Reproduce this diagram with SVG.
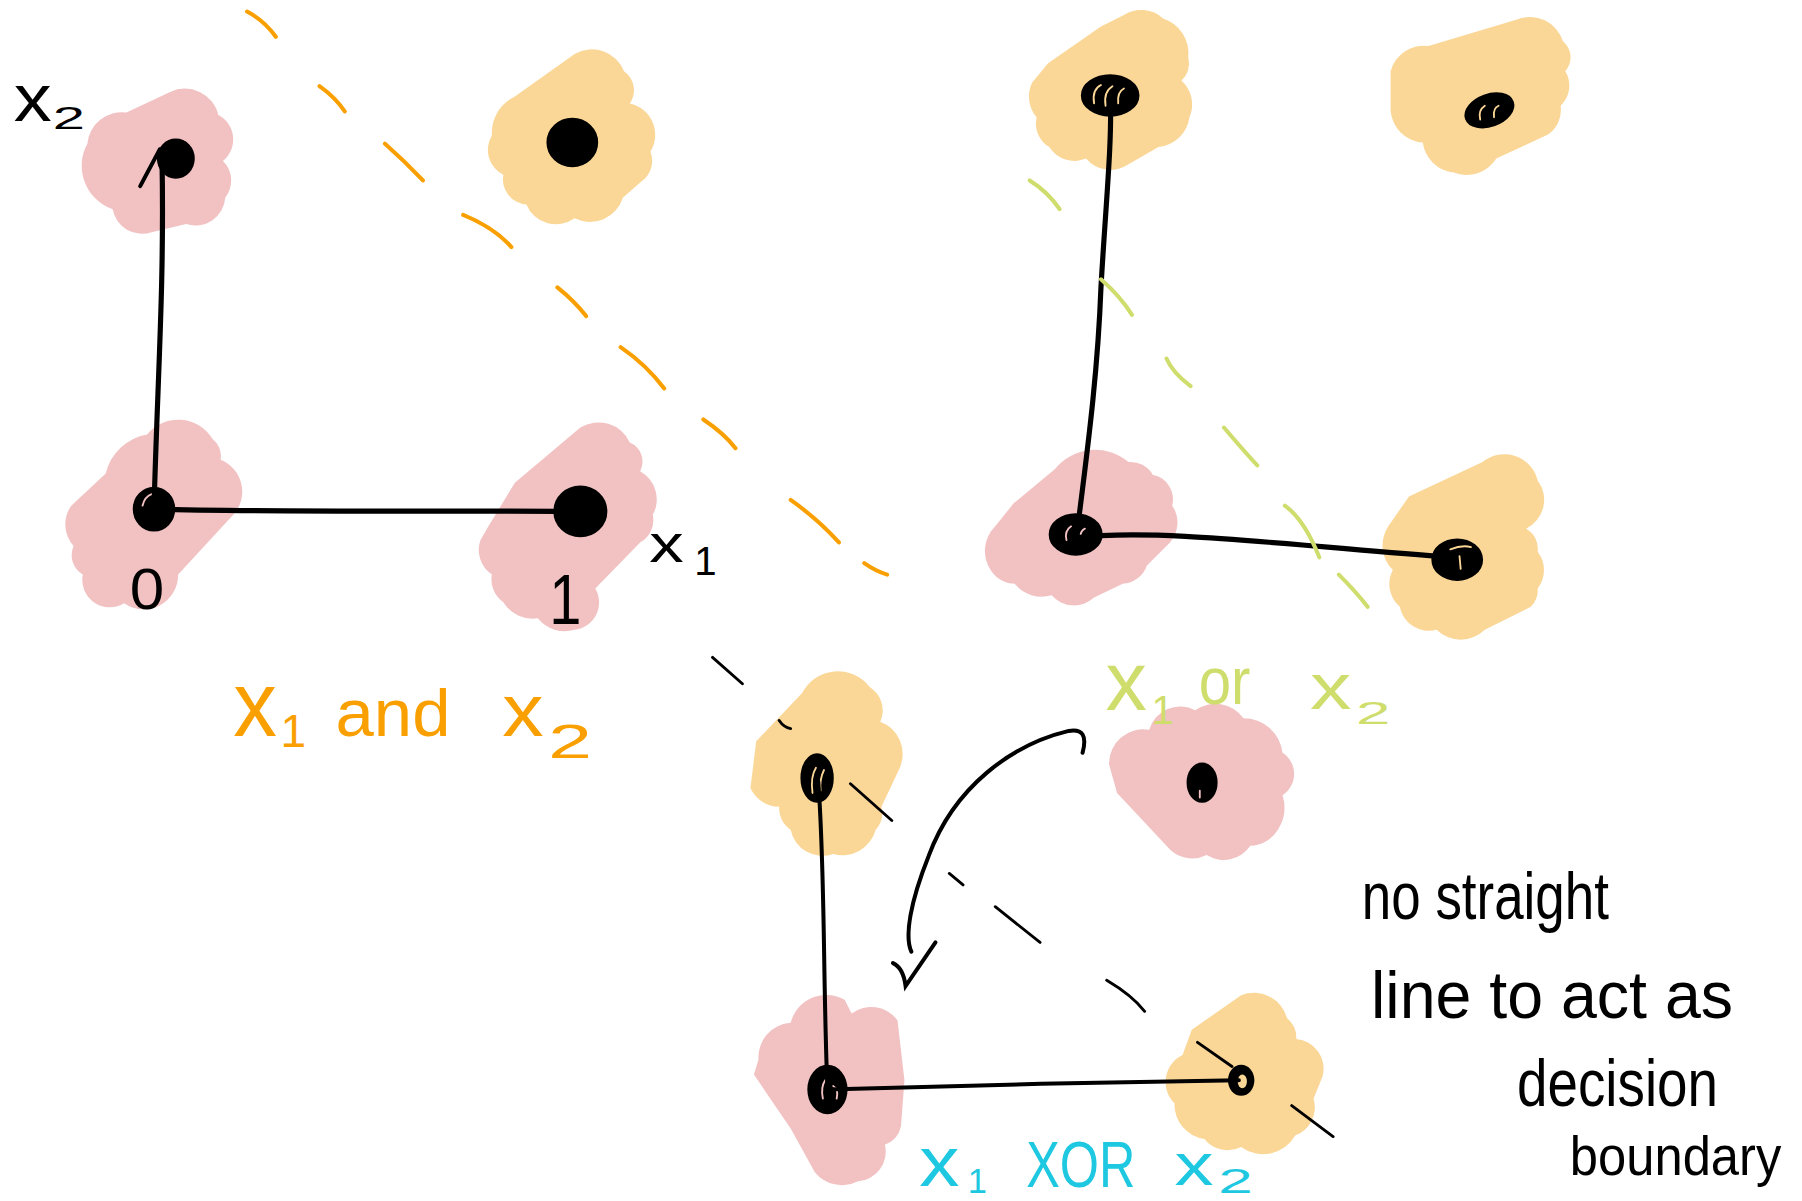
<svg xmlns="http://www.w3.org/2000/svg" width="1802" height="1201" viewBox="0 0 1802 1201">
<style>
.pink{fill:#f2c2c3}
.orange{fill:#fbd797}
.dot{fill:#000;stroke:#000;stroke-width:3}
.ring{fill:none;stroke:#000;stroke-width:3}
.hl{fill:none;stroke-width:1.6;stroke-linecap:round}
.axis{fill:none;stroke:#000;stroke-width:4.5;stroke-linecap:round}
.dash-o{fill:none;stroke:#f9a000;stroke-width:3.5;stroke-linecap:round}
.dash-g{fill:none;stroke:#cfdd6c;stroke-width:3.5;stroke-linecap:round}
.dash-k{fill:none;stroke:#000;stroke-width:2.5;stroke-linecap:round}
.t{font-family:"Liberation Sans","DejaVu Sans",sans-serif}
.tk{fill:#000}
.to{fill:#f9a000}
.tg{fill:#cfdd6c}
.tc{fill:#1ec8e0}
</style>
<rect width="1802" height="1201" fill="#fff"/>
<g transform="scale(1.14923)">
<!-- Panel 1: AND -->
<g id="and-01">
<path class="pink" d="M 76,125 A 30 30 0 0 1 110,98 L 148,80 A 30 30 0 0 1 190,100 A 24 24 0 0 1 194,140 A 24 24 0 0 1 196,172 A 26 26 0 0 1 162,195 L 132,202 A 26 26 0 0 1 98,182 A 40 40 0 0 1 76,125 Z"/>
<ellipse class="dot" cx="153" cy="138" rx="15" ry="16"/>
<path class="axis" d="M 122,162 L 139,130" style="stroke-width:3.5"/>
</g>
<g id="and-11">
<path class="orange" d="M 428,118 A 35 35 0 0 1 448,84 L 500,47 A 30 30 0 0 1 543,62 A 20 20 0 0 1 548,90 A 28 28 0 0 1 566,132 A 22 22 0 0 1 558,158 L 542,172 A 30 30 0 0 1 500,190 A 28 28 0 0 1 458,178 A 22 22 0 0 1 438,152 A 24 24 0 0 1 428,118 Z"/>
<ellipse class="dot" cx="498" cy="124" rx="21" ry="20"/>
</g>
<g id="and-00">
<path class="pink" d="M 92,412 A 45 45 0 0 1 128,378 A 35 35 0 0 1 185,382 A 20 20 0 0 1 192,400 A 30 30 0 0 1 203,448 L 155,500 A 30 30 0 0 1 108,525 A 24 24 0 0 1 72,500 A 20 20 0 0 1 64,475 A 28 28 0 0 1 62,440 Z"/>
<ellipse class="dot" cx="134" cy="443" rx="17" ry="18"/>
<path class="hl" stroke="#f2c2c3" d="M 124,440 Q 126,432 132,430"/>
</g>
<g id="and-10">
<path class="pink" d="M 425,458 L 448,420 L 505,372 A 30 30 0 0 1 548,385 A 18 18 0 0 1 557,410 A 28 28 0 0 1 568,448 A 22 22 0 0 1 557,472 L 518,512 A 24 24 0 0 1 500,548 A 30 30 0 0 1 468,538 A 30 30 0 0 1 438,524 A 24 24 0 0 1 428,500 A 26 26 0 0 1 418,470 Z"/>
<ellipse class="dot" cx="505" cy="445" rx="22" ry="21"/>
</g>
<!-- Panel 2: OR -->
<g id="or-01">
<path class="orange" d="M 912,55 L 958,23 L 978,13 A 28 28 0 0 1 1012,16 A 32 32 0 0 1 1034,50 A 20 20 0 0 1 1028,70 A 28 28 0 0 1 1035,102 A 30 30 0 0 1 1008,128 L 982,143 A 28 28 0 0 1 945,138 A 26 26 0 0 1 913,128 A 24 24 0 0 1 902,102 A 28 28 0 0 1 898,72 Z"/>
<ellipse class="dot" cx="966" cy="83" rx="24" ry="17"/>
<path class="hl" stroke="#fbd797" d="M 952,90 Q 950,78 958,74 M 962,92 Q 960,80 968,75 M 973,90 Q 972,80 978,77"/>
</g>
<g id="or-11">
<path class="orange" d="M 1210,62 A 30 30 0 0 1 1243,40 L 1320,17 A 30 30 0 0 1 1360,36 A 18 18 0 0 1 1362,62 A 24 24 0 0 1 1358,92 A 26 26 0 0 1 1347,117 L 1302,138 A 30 30 0 0 1 1265,150 A 30 30 0 0 1 1238,124 A 30 30 0 0 1 1210,96 Z"/>
<ellipse class="dot" cx="1296" cy="96" rx="21" ry="13" transform="rotate(-20 1296 96)"/>
<path class="hl" stroke="#fbd797" d="M 1288,104 Q 1286,96 1292,92 M 1300,102 Q 1299,94 1304,92"/>
</g>
<g id="or-00">
<path class="pink" d="M 882,438 L 918,408 A 45 45 0 0 1 982,402 A 22 22 0 0 1 1003,413 A 22 22 0 0 1 1020,440 A 26 26 0 0 1 1018,472 L 998,492 A 24 24 0 0 1 977,508 L 952,520 A 26 26 0 0 1 915,518 A 30 30 0 0 1 883,508 A 26 26 0 0 1 862,496 A 30 30 0 0 1 866,458 Z"/>
<ellipse class="dot" cx="936" cy="465" rx="22" ry="17"/>
<path class="hl" stroke="#f2c2c3" d="M 928,470 Q 926,462 932,458 M 940,468 Q 940,462 944,460"/>
</g>
<g id="or-10">
<path class="orange" d="M 1226,432 L 1290,402 A 30 30 0 0 1 1338,418 A 28 28 0 0 1 1328,460 A 20 20 0 0 1 1338,480 A 26 26 0 0 1 1338,512 A 20 20 0 0 1 1332,528 L 1292,548 A 30 30 0 0 1 1250,548 A 26 26 0 0 1 1218,528 A 26 26 0 0 1 1212,496 A 30 30 0 0 1 1208,458 Z"/>
<ellipse class="dot" cx="1268" cy="487" rx="21" ry="17"/>
<path class="hl" stroke="#fbd797" d="M 1262,478 Q 1272,474 1280,476 M 1270,484 L 1271,495"/>
</g>
<!-- Panel 3: XOR -->
<g id="xor-01">
<path class="orange" d="M 658,645 L 698,603 A 35 35 0 0 1 757,598 A 24 24 0 0 1 766,628 A 30 30 0 0 1 783,668 L 767,702 A 22 22 0 0 1 762,722 A 30 30 0 0 1 725,743 A 28 28 0 0 1 688,722 A 22 22 0 0 1 678,702 A 28 28 0 0 1 653,686 Z"/>
<ellipse class="dot" cx="711" cy="677" rx="13" ry="20"/>
<path class="hl" stroke="#fbd797" d="M 707,690 Q 705,676 710,668 M 714,688 Q 713,678 717,670"/>
</g>
<g id="xor-11">
<path class="pink" d="M 965,665 A 30 30 0 0 1 1000,635 A 28 28 0 0 1 1040,618 A 30 30 0 0 1 1082,625 A 34 34 0 0 1 1116,655 A 22 22 0 0 1 1116,692 A 36 36 0 0 1 1112,722 A 30 30 0 0 1 1088,736 A 28 28 0 0 1 1050,744 A 28 28 0 0 1 1016,737 L 972,690 Z"/>
<ellipse class="dot" cx="1046" cy="681" rx="12" ry="16"/>
<path class="hl" stroke="#f2c2c3" d="M 1044,688 L 1044,694"/>
</g>
<g id="xor-00">
<path class="pink" d="M 660,922 A 30 30 0 0 1 688,890 A 32 32 0 0 1 735,870 L 741,882 A 28 28 0 0 1 781,888 L 787,940 L 784,980 A 22 22 0 0 1 770,996 A 26 26 0 0 1 746,1028 A 30 30 0 0 1 709,1020 L 688,982 L 656,935 Z"/>
<ellipse class="dot" cx="720" cy="948" rx="16" ry="20"/>
<path class="hl" stroke="#f2c2c3" d="M 725,945 Q 730,948 728,956 M 716,956 Q 714,946 718,940"/>
</g>
<g id="xor-10">
<path class="orange" d="M 1037,896 L 1080,866 A 30 30 0 0 1 1120,886 A 22 22 0 0 1 1128,904 A 26 26 0 0 1 1151,936 L 1143,956 A 26 26 0 0 1 1127,988 A 32 32 0 0 1 1080,998 A 26 26 0 0 1 1048,991 A 30 30 0 0 1 1022,960 A 26 26 0 0 1 1029,918 Z"/>
<ellipse cx="1080" cy="940" rx="10" ry="12" fill="#000"/>
<ellipse cx="1081" cy="941" rx="4" ry="6" fill="#fbd797"/>
<ellipse cx="1080" cy="940" rx="10" ry="12" class="ring"/>
</g>
<!-- connectors -->
<g id="connectors">
<path class="axis" d="M 134,443 C 137,330 143,250 141,140"/>
<path class="axis" d="M 134,443 C 250,446 400,444 505,445"/>
<path class="axis" d="M 937,465 C 945,400 955,330 958,250 C 962,180 968,120 966,85"/>
<path class="axis" d="M 936,468 C 1000,460 1100,472 1262,485"/>
<path class="axis" d="M 720,948 C 716,850 718,760 712,680" style="stroke-width:3.5"/>
<path class="axis" d="M 720,948 C 850,944 950,942 1078,940" style="stroke-width:3.5"/>
<path class="axis" d="M 942,655 C 946,640 942,634 930,636 C 880,648 830,685 808,745 C 792,785 787,815 793,828" style="stroke-width:3.5"/>
<path class="axis" d="M 777,838 Q 786,842 788,858 L 814,820" style="stroke-width:3.5"/>
</g>
<g id="boundaries">
<path class="dash-o" d="M 215,10 Q 230,18 240,32 M 278,75 Q 292,85 300,97 M 335,125 Q 352,140 368,157 M 403,187 Q 430,198 445,215 M 485,250 Q 500,262 510,275 M 540,302 Q 562,317 578,338 M 612,365 Q 630,377 640,390 M 688,435 Q 712,452 730,472 M 752,490 Q 762,497 772,500"/>
<path class="dash-g" d="M 896,157 Q 912,167 922,182 M 958,243 Q 975,258 985,274 M 1015,312 Q 1020,324 1036,336 M 1065,372 Q 1082,392 1094,405 M 1118,440 Q 1135,452 1148,485 M 1165,500 Q 1180,515 1190,528"/>
<path class="dash-k" d="M 620,572 L 646,595 M 678,627 Q 682,633 688,634 M 740,682 L 776,714 M 826,760 L 838,770 M 866,789 L 905,820 M 963,853 Q 985,866 996,880 M 1042,907 L 1072,928 M 1124,962 L 1160,989"/>
</g>
<!-- labels -->
<g id="labels">
<text class="t tk" x="12" y="105" font-size="58" textLength="33" lengthAdjust="spacingAndGlyphs">x</text>
<text class="t tk" x="46" y="112" font-size="28" textLength="28" lengthAdjust="spacingAndGlyphs">2</text>
<text class="t tk" x="565" y="489" font-size="46" textLength="30" lengthAdjust="spacingAndGlyphs">x</text>
<text class="t tk" x="604" y="500" font-size="35">1</text>
<text class="t tk" x="113" y="530" font-size="50" textLength="30" lengthAdjust="spacingAndGlyphs">0</text>
<text class="t tk" x="478" y="543" font-size="62" textLength="28" lengthAdjust="spacingAndGlyphs">1</text>

<text class="t to" x="203" y="640" font-size="80" textLength="38" lengthAdjust="spacingAndGlyphs">x</text>
<text class="t to" x="244" y="650" font-size="40">1</text>
<text class="t to" x="292" y="640" font-size="58" textLength="100" lengthAdjust="spacingAndGlyphs">and</text>
<text class="t to" x="437" y="640" font-size="64" textLength="36" lengthAdjust="spacingAndGlyphs">x</text>
<text class="t to" x="477" y="660" font-size="42" textLength="38" lengthAdjust="spacingAndGlyphs">2</text>

<text class="t tg" x="962" y="618" font-size="73" textLength="36" lengthAdjust="spacingAndGlyphs">x</text>
<text class="t tg" x="1002" y="630" font-size="35">1</text>
<text class="t tg" x="1043" y="613" font-size="58" textLength="45" lengthAdjust="spacingAndGlyphs">or</text>
<text class="t tg" x="1140" y="617" font-size="56" textLength="36" lengthAdjust="spacingAndGlyphs">x</text>
<text class="t tg" x="1180" y="630" font-size="28" textLength="30" lengthAdjust="spacingAndGlyphs">2</text>

<text class="t tc" x="800" y="1032" font-size="62" textLength="35" lengthAdjust="spacingAndGlyphs">x</text>
<text class="t tc" x="842" y="1038" font-size="30">1</text>
<text class="t tc" x="893" y="1033" font-size="56" textLength="95" lengthAdjust="spacingAndGlyphs">XOR</text>
<text class="t tc" x="1022" y="1031" font-size="52" textLength="34" lengthAdjust="spacingAndGlyphs">x</text>
<text class="t tc" x="1060" y="1038" font-size="30" textLength="30" lengthAdjust="spacingAndGlyphs">2</text>

<text class="t tk" x="1185" y="800" font-size="58" textLength="215" lengthAdjust="spacingAndGlyphs">no straight</text>
<text class="t tk" x="1193" y="886" font-size="58" textLength="315" lengthAdjust="spacingAndGlyphs">line to act as</text>
<text class="t tk" x="1320" y="962" font-size="58" textLength="175" lengthAdjust="spacingAndGlyphs">decision</text>
<text class="t tk" x="1366" y="1022" font-size="48" textLength="184" lengthAdjust="spacingAndGlyphs">boundary</text>
</g>
</g>
</svg>
